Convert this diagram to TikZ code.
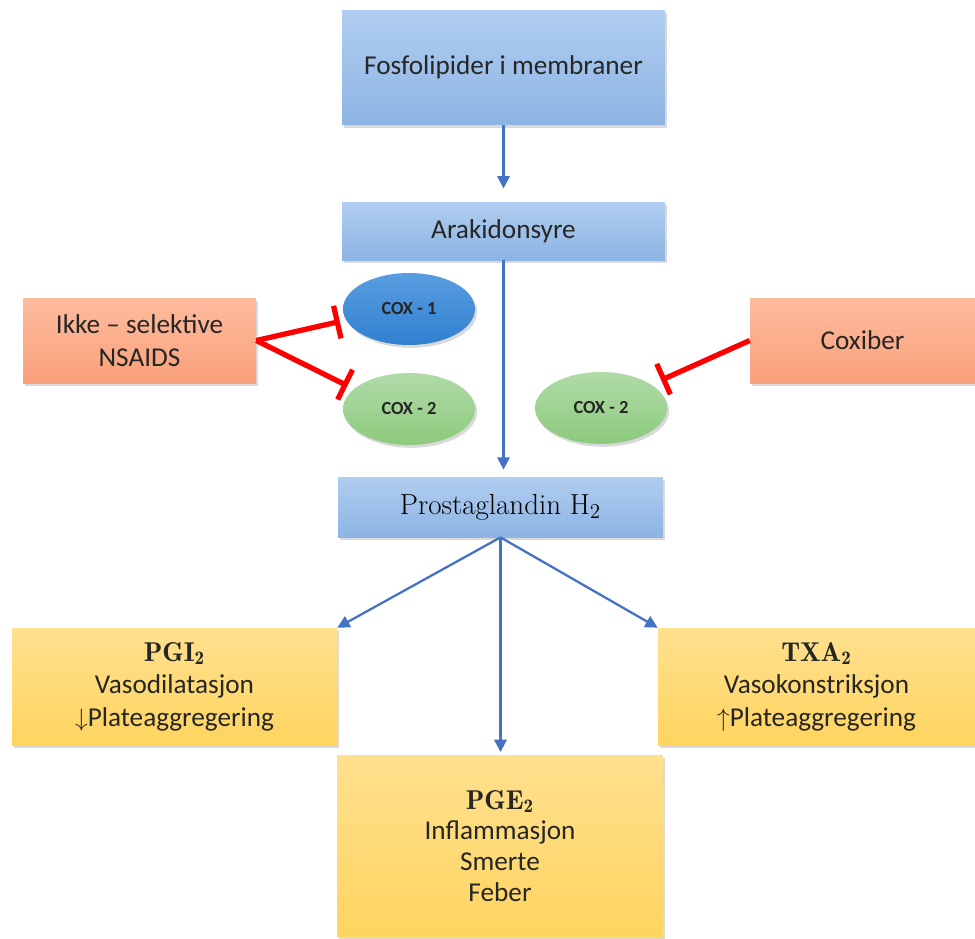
\documentclass[tikz,border=0pt]{standalone}
\usepackage{fontspec}
\setsansfont{Carlito}
\usepackage{tikz}
\usetikzlibrary{arrows.meta,positioning,shapes.geometric,shadows}
\usepackage{xcolor}
\definecolor{flowblue}{HTML}{4472C4}
\definecolor{txtgray}{HTML}{262626}

\begin{document}
\begin{tikzpicture}[x=0.02cm,y=-0.02cm,>=Latex,
  font=\sffamily\fontsize{15.5}{19}\selectfont, text=txtgray,
  shade/.style={drop shadow={shadow xshift=1.2pt,shadow yshift=-1.6pt,opacity=.3}},
  bluebox/.style={shade,rectangle,inner sep=0pt,align=center,top color={rgb,255:red,176;green,205;blue,240},bottom color={rgb,255:red,141;green,180;blue,227}},
  redbox/.style={shade,rectangle,inner sep=0pt,align=center,top color={rgb,255:red,253;green,188;blue,158},bottom color={rgb,255:red,249;green,160;blue,122}},
  yelbox/.style={shade,rectangle,inner sep=0pt,align=center,top color={rgb,255:red,255;green,224;blue,143},bottom color={rgb,255:red,255;green,212;blue,95}},
  enz/.style={shade,ellipse,inner sep=0pt,minimum width=2.64cm,minimum height=1.44cm,font=\sffamily\bfseries\fontsize{10.5}{12}\selectfont},
  flow/.style={draw=flowblue,line width=1.3pt,-{Triangle[width=7pt,length=7pt]}},
  block/.style={draw=red,line width=3pt,-{Bar[width=19pt,line width=3pt]}}]
\useasboundingbox (0,0) rectangle (975,938);

% boxes
\node[bluebox,minimum width=6.46cm,minimum height=2.3cm] (fos) at (503.5,67.5) {Fosfolipider i membraner};
\node[bluebox,minimum width=6.46cm,minimum height=1.16cm] (arak) at (503.5,231) {Arakidonsyre};
\node[redbox,minimum width=4.66cm,minimum height=1.7cm] (nsaid) at (139.5,340.5) {Ikke -- selektive\\NSAIDS};
\node[redbox,minimum width=4.5cm,minimum height=1.7cm] (coxib) at (862.5,340.5) {Coxiber};
\node[enz,top color={rgb,255:red,90;green,157;blue,224},bottom color={rgb,255:red,47;green,128;blue,208}] (cox1) at (409,309) {COX - 1};
\node[enz,top color={rgb,255:red,176;green,219;blue,168},bottom color={rgb,255:red,140;green,202;blue,124}] (cox2a) at (409,409) {COX - 2};
\node[enz,top color={rgb,255:red,176;green,219;blue,168},bottom color={rgb,255:red,140;green,202;blue,124}] (cox2b) at (601,408) {COX - 2};
\node[bluebox,minimum width=6.5cm,minimum height=1.2cm,text=black,font=\rmfamily\fontsize{16.5}{19}\selectfont] (ph2) at (500.5,507) {Prostaglandin H$_2$};
\node[yelbox,minimum width=6.5cm,minimum height=2.34cm,font=\sffamily\fontsize{15.5}{18.5}\selectfont] (pgi) at (174.5,686.5)
  {$\mathbf{PGI_2}$\\Vasodilatasjon\\$\downarrow$Plateaggregering};
\node[yelbox,minimum width=6.34cm,minimum height=2.34cm,font=\sffamily\fontsize{15.5}{18.5}\selectfont] (txa) at (816.5,686.5)
  {$\mathbf{TXA_2}$\\Vasokonstriksjon\\$\uparrow$Plateaggregering};
\node[yelbox,minimum width=6.52cm,minimum height=3.64cm,font=\sffamily\fontsize{15.5}{17.6}\selectfont] (pge) at (500,846)
  {$\mathbf{PGE_2}$\\Inflammasjon\\Smerte\\Feber};

% pathway
\draw[flow,shorten >=7.5pt] (fos.south) -- (fos.south|-arak.north);
\draw[flow,shorten >=4pt] (arak.south) -- (arak.south|-ph2.north);
\draw[flow] (ph2.south) -- (pgi.north east);
\draw[flow] (ph2.south) -- (txa.north west);
\draw[flow,shorten >=1.5pt] (ph2.south) -- (ph2.south|-pge.north);

% inhibition
\draw[block,shorten >=3.5pt] (nsaid.east) -- (cox1.190);
\draw[block,shorten >=4pt] (nsaid.east) -- (cox2a.160);
\draw[block,shorten >=6pt] (coxib.west) -- (cox2b.25);
\end{tikzpicture}
\end{document}
